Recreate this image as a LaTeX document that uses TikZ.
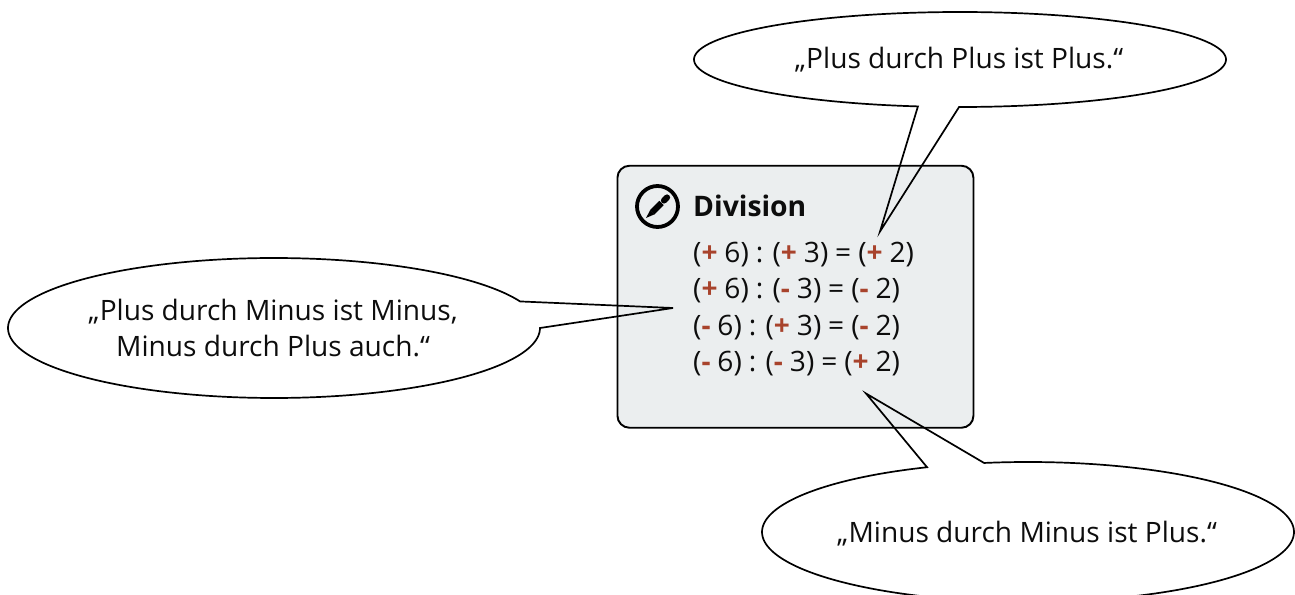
\documentclass[tikz,border=0pt]{standalone}
\usepackage{fontspec}
\setmainfont{Open Sans}
\definecolor{boxfill}{HTML}{EBEEEF}
\definecolor{signred}{HTML}{A8432C}
\newcommand{\pl}{\textcolor{signred}{\textbf{+}}}
\newcommand{\mi}{\textcolor{signred}{\textbf{-}}}
\newcommand{\eqtext}[1]{\spaceskip=0.247em\relax #1}
\tikzset{
  every node/.style={font=\fontsize{28.2}{36.3}\selectfont, inner sep=0pt, text=black!95},
  callout/.style={draw=black, line width=1.7bp, line join=miter},
  eqline/.style={anchor=base west},
  speech/.style={align=center, anchor=center},
}
\begin{document}
\begin{tikzpicture}[x=1bp,y=-1bp]
\useasboundingbox (0,0) rectangle (1295,595);
\clip (0,0) rectangle (1295,595);
% box
\node[draw=black, line width=1.9bp, fill=boxfill, rounded corners=12bp, minimum width=356bp, minimum height=262bp, anchor=north west] (box) at (616.5,164.8) {};
% icon
\node[draw=black, line width=3.8bp, circle, minimum size=41bp] (icon) at (657.5,206.5) {};
\fill[black] (646,218) -- (650,210.5) -- (654,214.5) -- cycle;
\draw[black, line width=6.2bp] (652,212.5) -- (661.5,203);
\draw[black, line width=6.2bp, line cap=round] (664,200.5) -- (667,197.5);
% texts
\node[anchor=base west, font=\fontsize{28.4}{36}\selectfont\bfseries] (title) at (693,217) {Division};
\node[eqline] (eqa) at (693,262.8) {\eqtext{(\pl{} 6) : (\pl{} 3) = (\pl{} 2)}};
\node[eqline] (eqb) at (693,298.8) {\eqtext{(\pl{} 6) : (\mi{} 3) = (\mi{} 2)}};
\node[eqline] (eqc) at (693,335.3) {\eqtext{(\mi{} 6) : (\pl{} 3) = (\mi{} 2)}};
\node[eqline] (eqd) at (693,371.8) {\eqtext{(\mi{} 6) : (\mi{} 3) = (\pl{} 2)}};
\node[speech] (ta) at (959,60) {„Plus durch Plus ist Plus.“};
\node[speech] (tb) at (273,328.2) {„Plus durch Minus ist Minus,\\Minus durch Plus auch.“};
\node[speech] (tc) at (1027,534) {„Minus durch Minus ist Plus.“};
% tails
\coordinate (tipa) at (880,231.5);
\coordinate (tipb) at (673,308);
\coordinate (tipc) at (866,393.5);
% callouts
\draw[callout] plot[domain=90.2:-260.9, samples=180, smooth] ({960+266*cos(\x)},{59.5+47.5*sin(\x)}) -- (tipa) -- cycle;
\draw[callout] plot[domain=0:337.7, samples=180, smooth] ({274+266*cos(\x)},{328+70*sin(\x)}) -- (tipb) -- cycle;
\draw[callout] plot[domain=-99.5:247.7, samples=180, smooth] ({1028+266*cos(\x)},{532+70*sin(\x)}) -- (tipc) -- cycle;
\end{tikzpicture}
\end{document}
